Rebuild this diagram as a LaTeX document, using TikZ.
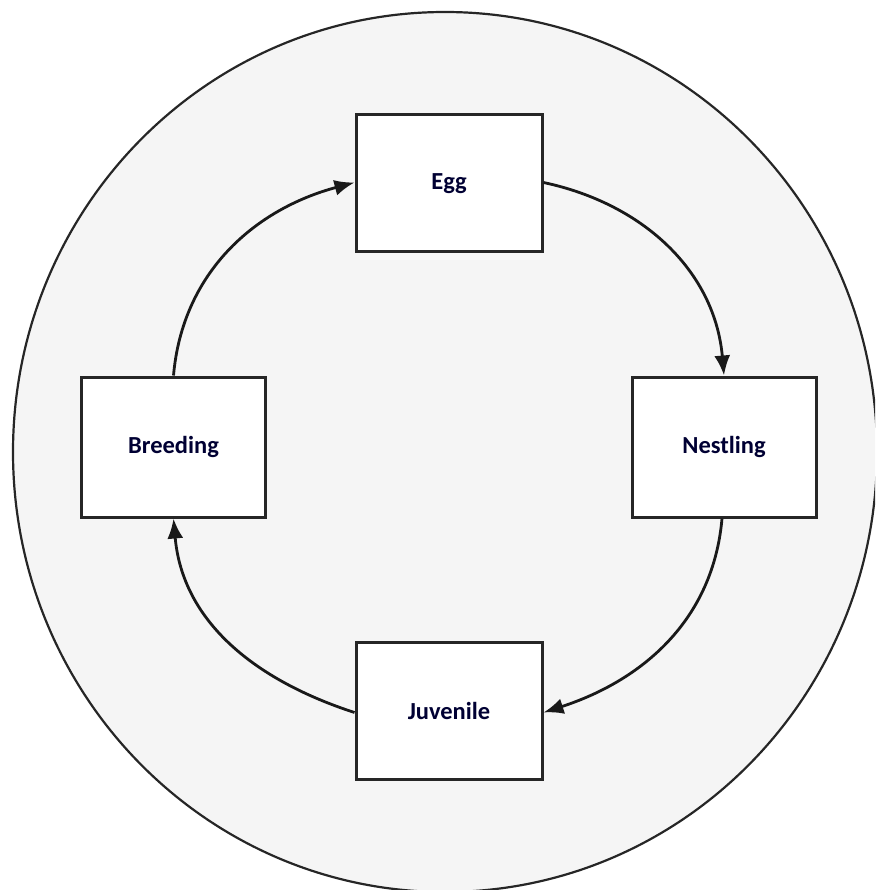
\documentclass[tikz,border=0pt]{standalone}
\usepackage{fontspec}
\setmainfont{Carlito}
\usetikzlibrary{arrows.meta}
\begin{document}
\begin{tikzpicture}[x=1pt,y=-1pt,
  stage/.style={draw=black!85, line width=3pt, fill=white,
    minimum width=186pt, minimum height=137pt, inner sep=0pt,
    font=\fontsize{24.5}{28}\selectfont\bfseries, text=black!80!blue},
  flow/.style={draw=black!90, line width=2.8pt,
    -{Latex[length=20pt,width=16pt]}}]
  \useasboundingbox (0,0) rectangle (875,890);
  \clip (0,0) rectangle (875,890);
  % background disc
  \path[draw=black!85, line width=2.2pt, fill=black!4]
    (445,452) ellipse [x radius=432, y radius=440];
  % life-cycle stages
  \node[stage] (egg)      at (449,183.5) {Egg};
  \node[stage, minimum width=184pt, minimum height=140pt] (nest) at (724,447) {Nestling};
  \node[stage] (juv)      at (449,710.5) {Juvenile};
  \node[stage, minimum width=184pt, minimum height=140pt] (breed) at (173.5,447) {Breeding};
  % transitions
  \draw[flow] (breed.north) to[out=85, in=195] ([yshift=1pt]egg.west);
  \draw[flow] ([yshift=1pt]egg.east) to[out=-12, in=95] (nest.north);
  \draw[flow] ([xshift=-2pt]nest.south) to[out=-95, in=18] ([yshift=-2pt]juv.east);
  \draw[flow] ([yshift=-2pt]juv.west) to[out=162, in=-85] (breed.south);
\end{tikzpicture}
\end{document}
